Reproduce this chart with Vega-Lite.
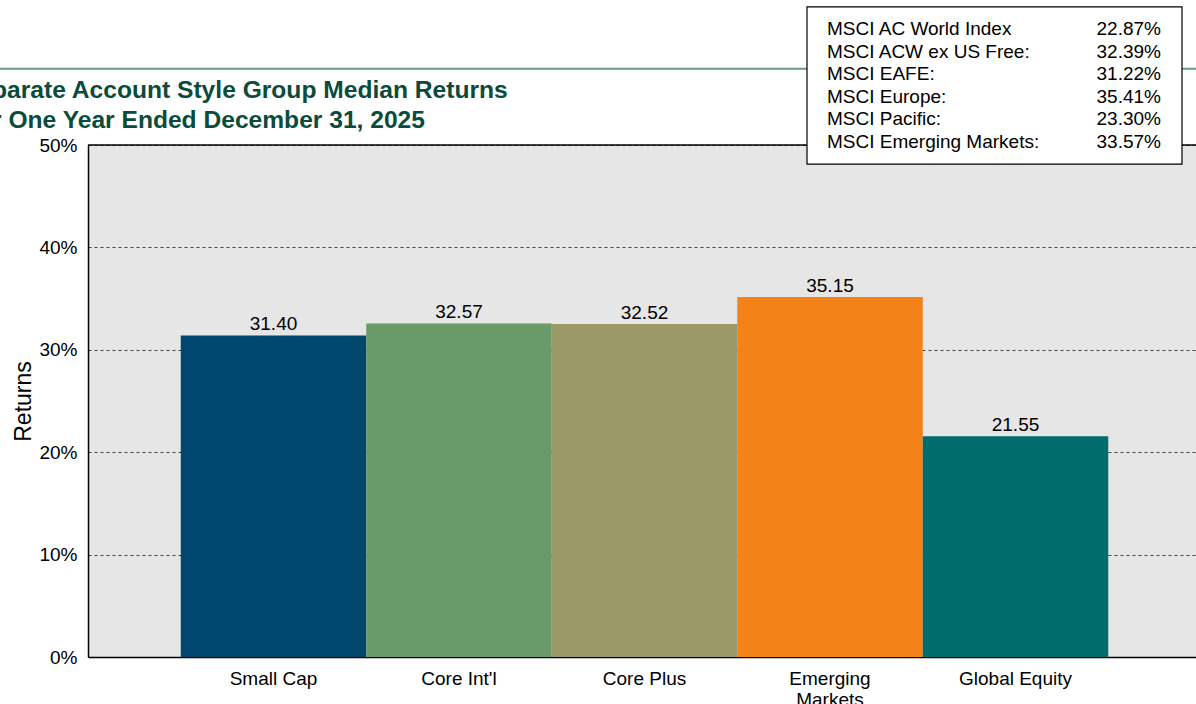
{
  "$schema": "https://vega.github.io/schema/vega-lite/v6.json",
  "autosize": {"type": "none"},
  "width": 1108,
  "height": 512,
  "padding": {"left": 88, "top": 145, "right": 0, "bottom": 47},
  "background": "white",
  "title": {
    "text": ["Separate Account Style Group Median Returns", "For One Year Ended December 31, 2025"],
    "anchor": "start",
    "frame": "group",
    "dx": -126,
    "dy": 139,
    "offset": 12,
    "font": "Liberation Sans",
    "fontSize": 24.6,
    "fontWeight": "bold",
    "color": "#0b4b3c",
    "lineHeight": 30
  },
  "config": {
    "font": "Liberation Sans",
    "view": {"stroke": null, "fill": "#e6e6e6"}
  },
  "data": {
    "values": [
      {"style": "Small Cap", "ret": 31.40},
      {"style": "Core Int'l", "ret": 32.57},
      {"style": "Core Plus", "ret": 32.52},
      {"style": "Emerging Markets", "ret": 35.15},
      {"style": "Global Equity", "ret": 21.55}
    ]
  },
  "layer": [
    {
      "encoding": {
        "x": {
          "field": "style",
          "type": "nominal",
          "sort": null,
          "scale": {"range": [0, 1113], "paddingInner": 0, "paddingOuter": 0.5},
          "axis": {
            "title": null,
            "labelAngle": 0,
            "ticks": false,
            "domain": true,
            "domainColor": "black",
            "domainWidth": 1.5,
            "labelFontSize": 19,
            "labelColor": "black",
            "labelPadding": 12,
            "labelLineHeight": 21,
            "labelExpr": "datum.label == 'Emerging Markets' ? ['Emerging', 'Markets'] : datum.label"
          }
        },
        "y": {
          "field": "ret",
          "type": "quantitative",
          "scale": {"domain": [0, 50], "nice": false},
          "axis": {
            "title": "Returns",
            "titleFontSize": 23,
            "titleFontWeight": "normal",
            "titleColor": "black",
            "titlePadding": 3,
            "values": [0, 10, 20, 30, 40, 50],
            "labelExpr": "datum.value + '%'",
            "labelFontSize": 19,
            "labelColor": "black",
            "labelPadding": 11,
            "ticks": false,
            "domainColor": "black",
            "domainWidth": 1.5,
            "grid": true,
            "gridColor": "#444444",
            "gridDash": [3, 3],
            "gridWidth": 1
          }
        }
      },
      "layer": [
        {
          "mark": {"type": "bar"},
          "encoding": {
            "color": {
              "field": "style",
              "type": "nominal",
              "sort": null,
              "legend": null,
              "scale": {
                "domain": ["Small Cap", "Core Int'l", "Core Plus", "Emerging Markets", "Global Equity"],
                "range": ["#00476e", "#699b69", "#9b9966", "#f38219", "#006c6b"]
              }
            }
          }
        },
        {
          "mark": {"type": "text", "baseline": "alphabetic", "dy": -5, "fontSize": 19, "color": "black"},
          "encoding": {
            "text": {"field": "ret", "type": "quantitative", "format": ".2f"}
          }
        },
        {
          "data": {"values": [{"top": 50}]},
          "mark": {"type": "rule", "color": "black", "strokeWidth": 1.5},
          "encoding": {
            "y": {"field": "top", "type": "quantitative"},
            "x": null
          }
        }
      ]
    },
    {
      "data": {"values": [{"band": "header"}]},
      "layer": [
        {
          "mark": {"type": "rule", "color": "#6e958a", "strokeWidth": 2, "clip": false},
          "encoding": {
            "x": {"datum": -2.152, "type": "quantitative", "scale": {"domain": [0, 1], "range": [719, 1094]}, "axis": null},
            "x2": {"datum": 1.04},
            "y": {"datum": 57.45, "type": "quantitative", "scale": {"domain": [0, 50], "nice": false}, "axis": null}
          }
        },
        {
          "mark": {"type": "rect", "fill": "white", "stroke": "black", "strokeWidth": 1.2, "clip": false},
          "encoding": {
            "x": {"datum": 0, "type": "quantitative"},
            "x2": {"datum": 1},
            "y": {"datum": 63.48, "type": "quantitative"},
            "y2": {"datum": 48.14}
          }
        }
      ]
    },
    {
      "data": {
        "values": [
          {"index": "MSCI AC World Index", "value": 0.2287},
          {"index": "MSCI ACW ex US Free:", "value": 0.3239},
          {"index": "MSCI EAFE:", "value": 0.3122},
          {"index": "MSCI Europe:", "value": 0.3541},
          {"index": "MSCI Pacific:", "value": 0.2330},
          {"index": "MSCI Emerging Markets:", "value": 0.3357}
        ]
      },
      "encoding": {
        "y": {
          "field": "index",
          "type": "nominal",
          "sort": null,
          "scale": {"type": "point", "range": [-116, -3], "padding": 0},
          "axis": null
        }
      },
      "layer": [
        {
          "mark": {"type": "text", "align": "left", "baseline": "middle", "fontSize": 19, "color": "black", "clip": false},
          "encoding": {
            "x": {"datum": 0.0533, "type": "quantitative", "scale": {"domain": [0, 1], "range": [719, 1094]}, "axis": null},
            "text": {"field": "index", "type": "nominal"}
          }
        },
        {
          "mark": {"type": "text", "align": "right", "baseline": "middle", "fontSize": 19, "color": "black", "clip": false},
          "encoding": {
            "x": {"datum": 0.944, "type": "quantitative"},
            "text": {"field": "value", "type": "quantitative", "format": ".2%"}
          }
        }
      ]
    }
  ],
  "resolve": {"scale": {"x": "independent", "y": "independent", "color": "independent"}}
}
